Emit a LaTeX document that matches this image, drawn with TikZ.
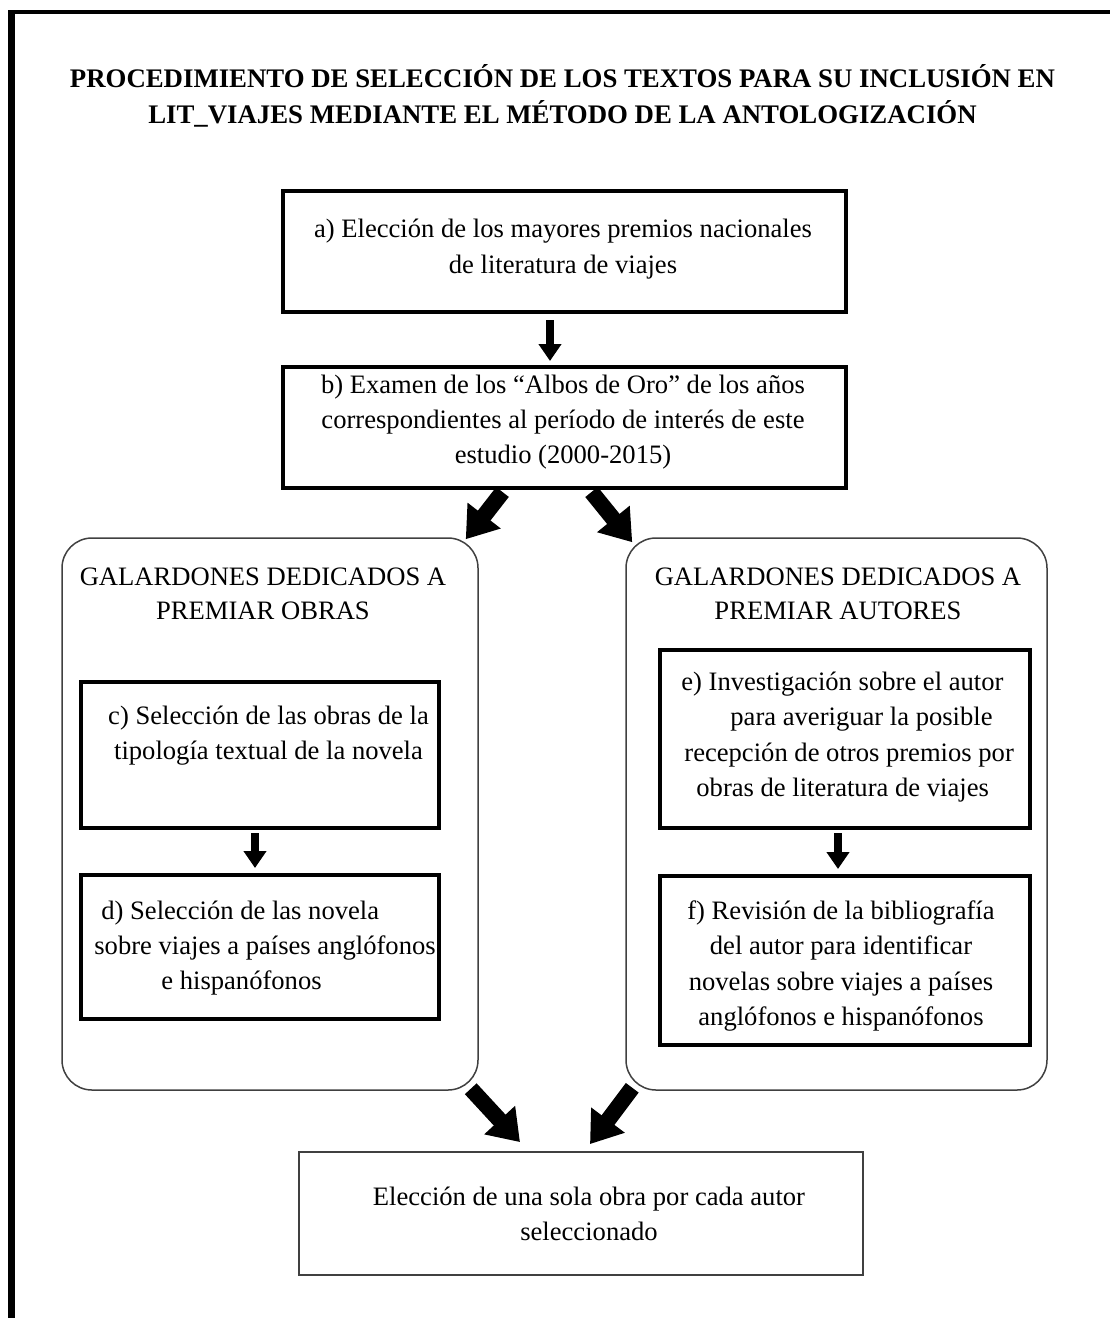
\documentclass[tikz,border=0pt]{standalone}
\usepackage{fontspec}
\setmainfont{Liberation Serif}
\usetikzlibrary{arrows.meta}

\begin{document}
\begin{tikzpicture}[x=0.5pt,y=-0.5pt,
  stepbox/.style={draw=black,line width=2pt,inner sep=0pt},
  groupbox/.style={draw=black!75,line width=0.75pt,rounded corners=15pt,inner sep=0pt},
  endbox/.style={draw=black!75,line width=0.9pt,inner sep=0pt},
  txt/.style={align=center,font=\fontsize{13.3}{17.6}\selectfont,inner sep=0pt},
  ltxt/.style={txt,align=left,anchor=west},
  headtxt/.style={align=center,font=\fontsize{13.3}{17}\selectfont,inner sep=0pt},
  titletxt/.style={align=center,font=\fontsize{13.4}{18}\selectfont\bfseries,inner sep=0pt},
  smallarrow/.style={line width=4pt,-{Triangle[width=11pt,length=8.5pt]}},
  bigarrow/.style={line width=8pt,-{Triangle[width=20pt,length=15pt]}},
]
\useasboundingbox (0,0) rectangle (1110,1318);
\clip (0,0) rectangle (1110,1318);

% outer frame (left and top edges)
\draw[line width=3.5pt] (11.5,1318) -- (11.5,9.5);
\draw[line width=2pt] (8,11.5) -- (1110,11.5);

% title
\node[titletxt] (title) at (562.5,96)
  {PROCEDIMIENTO DE SELECCIÓN DE LOS TEXTOS PARA SU INCLUSIÓN EN\\
   LIT\_VIAJES MEDIANTE EL MÉTODO DE LA ANTOLOGIZACIÓN};

% first two steps
\node[stepbox,minimum width=281.5pt,minimum height=60.5pt] (a) at (564.5,251.5) {};
\node[txt] (ta) at (563,249)
  {a) Elección de los mayores premios nacionales\\de literatura de viajes};

\node[stepbox,minimum width=281.5pt,minimum height=60.5pt] (b) at (564.5,427.5) {};
\node[txt] (tb) at (563,422)
  {b) Examen de los “Albos de Oro” de los años\\
   correspondientes al período de interés de este\\
   estudio (2000-2015)};

% left group: prizes for works
\node[groupbox,minimum width=208pt,minimum height=276pt] (L) at (270,814) {};
\node[headtxt] (tL) at (263,594) {GALARDONES DEDICADOS A\\PREMIAR OBRAS};

\node[stepbox,minimum width=179pt,minimum height=73pt] (c) at (260,755) {};
\node[txt] (tc) at (268.5,736)
  {c) Selección de las obras de la\\tipología textual de la novela};

\node[stepbox,minimum width=179pt,minimum height=72pt] (d) at (260,947) {};
\node[ltxt] (td) at (94,948)
  {\hspace{3.5pt}d) Selección de las novela\\
   sobre viajes a países anglófonos\\
   \hspace{33.5pt}e hispanófonos};

% right group: prizes for authors
\node[groupbox,minimum width=210.5pt,minimum height=276pt] (R) at (836.5,814) {};
\node[headtxt] (tR) at (838,594) {GALARDONES DEDICADOS A\\PREMIAR AUTORES};

\node[stepbox,minimum width=185pt,minimum height=89pt] (e) at (845,739) {};
\node[ltxt] (te) at (681,737)
  {e) Investigación sobre el autor\\
   \hspace{24.5pt}para averiguar la posible\\
   \hspace{1.5pt}recepción de otros premios por\\
   \hspace{7.5pt}obras de literatura de viajes};

\node[stepbox,minimum width=185pt,minimum height=84.5pt] (f) at (845,960.5) {};
\node[txt] (tf) at (841,966)
  {f) Revisión de la bibliografía\\
   del autor para identificar\\
   novelas sobre viajes a países\\
   anglófonos e hispanófonos};

% final step
\node[endbox,minimum width=282pt,minimum height=61.5pt] (g) at (581,1213.5) {};
\node[txt] (tg) at (589,1214)
  {Elección de una sola obra por cada autor\\seleccionado};

% connectors
\draw[smallarrow] ([shift={(-14.5,6)}]a.south) -- ([shift={(-14.5,-4)}]b.north);
\draw[bigarrow] ([shift={(-62,2)}]b.south) -- ([shift={(-13,2)}]L.north east);
\draw[bigarrow] ([shift={(27,2)}]b.south) -- ([shift={(7,5)}]R.north west);
\draw[smallarrow] ([shift={(-5,3)}]c.south) -- ([shift={(-5,-5)}]d.north);
\draw[smallarrow] ([shift={(-7,3)}]e.south) -- ([shift={(-7,-5)}]f.north);
\draw[bigarrow] ([shift={(-8,-2)}]L.south east) -- ([shift={(-61,-9)}]g.north);
\draw[bigarrow] ([shift={(7,-3)}]R.south west) -- ([shift={(9,-7)}]g.north);
\end{tikzpicture}
\end{document}
